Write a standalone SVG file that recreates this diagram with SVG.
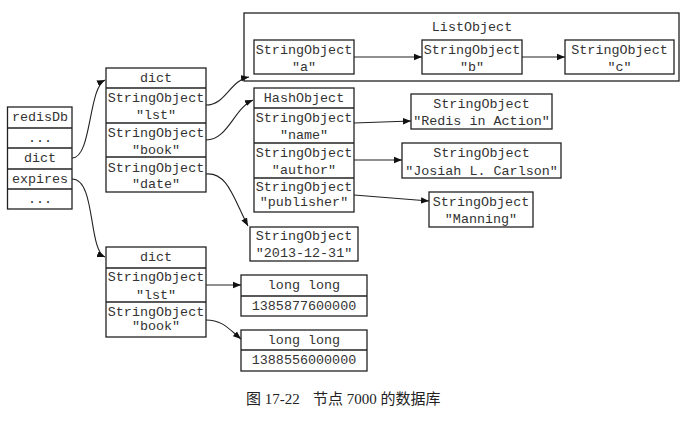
<svg xmlns="http://www.w3.org/2000/svg" width="695" height="421" viewBox="0 0 695 421">
<defs>
<marker id="ah" viewBox="0 0 10 10" refX="10" refY="5" markerWidth="8" markerHeight="8" markerUnits="userSpaceOnUse" orient="auto">
<path d="M0,1 L10,5 L0,9 z" fill="#111"/>
</marker>
<style>
.b{fill:#fff;stroke:#222;stroke-width:1.3}
.t{font-family:"Liberation Mono","DejaVu Sans Mono",monospace;font-size:13.4px;fill:#333;text-anchor:middle;dominant-baseline:central}
.c{fill:none;stroke:#222;stroke-width:1.1;marker-end:url(#ah)}
.cap{font-family:"Liberation Serif","Noto Sans CJK SC",serif;font-size:15px;fill:#222}
</style>
</defs>
<rect width="695" height="421" fill="#fff"/>

<g id="redisDb">
<rect class="b" x="7.5" y="107" width="64.5" height="102"/>
<line class="b" x1="7.5" y1="128" x2="72" y2="128"/>
<line class="b" x1="7.5" y1="148" x2="72" y2="148"/>
<line class="b" x1="7.5" y1="169" x2="72" y2="169"/>
<line class="b" x1="7.5" y1="189" x2="72" y2="189"/>
<text class="t" x="40" y="117">redisDb</text>
<text class="t" x="40" y="138">...</text>
<text class="t" x="40" y="158">dict</text>
<text class="t" x="40" y="179">expires</text>
<text class="t" x="40" y="199">...</text>
</g>

<g id="dict1">
<rect class="b" x="106" y="68" width="100" height="124"/>
<line class="b" x1="106" y1="88" x2="206" y2="88"/>
<line class="b" x1="106" y1="123" x2="206" y2="123"/>
<line class="b" x1="106" y1="157" x2="206" y2="157"/>
<text class="t" x="156" y="78">dict</text>
<text class="t" x="156" y="98">StringObject</text>
<text class="t" x="156" y="115">"lst"</text>
<text class="t" x="156" y="133">StringObject</text>
<text class="t" x="156" y="150">"book"</text>
<text class="t" x="156" y="168">StringObject</text>
<text class="t" x="156" y="184">"date"</text>
</g>

<g id="listObject">
<rect class="b" x="244" y="13" width="435" height="68"/>
<text class="t" x="472" y="27">ListObject</text>
</g>
<g id="strA">
<rect class="b" x="254" y="40" width="100" height="34"/>
<text class="t" x="304" y="50">StringObject</text>
<text class="t" x="304" y="67">"a"</text>
</g>
<g id="strB">
<rect class="b" x="422" y="40" width="100" height="34"/>
<text class="t" x="472" y="50">StringObject</text>
<text class="t" x="472" y="67">"b"</text>
</g>
<g id="strC">
<rect class="b" x="565" y="40" width="109" height="34"/>
<text class="t" x="619.5" y="50">StringObject</text>
<text class="t" x="619.5" y="67">"c"</text>
</g>

<g id="hashObject">
<rect class="b" x="254" y="88" width="100" height="124"/>
<line class="b" x1="254" y1="108" x2="354" y2="108"/>
<line class="b" x1="254" y1="143" x2="354" y2="143"/>
<line class="b" x1="254" y1="178" x2="354" y2="178"/>
<text class="t" x="304" y="98">HashObject</text>
<text class="t" x="304" y="118">StringObject</text>
<text class="t" x="304" y="135">"name"</text>
<text class="t" x="304" y="153">StringObject</text>
<text class="t" x="304" y="170">"author"</text>
<text class="t" x="304" y="187">StringObject</text>
<text class="t" x="304" y="202">"publisher"</text>
</g>

<g id="strRedis">
<rect class="b" x="411" y="94" width="141" height="35"/>
<text class="t" x="481.5" y="104">StringObject</text>
<text class="t" x="481.5" y="121">"Redis in Action"</text>
</g>
<g id="strJosiah">
<rect class="b" x="402" y="143" width="159" height="35"/>
<text class="t" x="481.5" y="153">StringObject</text>
<text class="t" x="481.5" y="171">"Josiah L. Carlson"</text>
</g>
<g id="strManning">
<rect class="b" x="429" y="192" width="104" height="35"/>
<text class="t" x="481" y="202">StringObject</text>
<text class="t" x="481" y="219">"Manning"</text>
</g>

<g id="strDate">
<rect class="b" x="250" y="227" width="108" height="34"/>
<text class="t" x="304" y="236">StringObject</text>
<text class="t" x="304" y="253">"2013-12-31"</text>
</g>

<g id="dict2">
<rect class="b" x="106" y="247" width="100" height="90"/>
<line class="b" x1="106" y1="268" x2="206" y2="268"/>
<line class="b" x1="106" y1="302" x2="206" y2="302"/>
<text class="t" x="156" y="257">dict</text>
<text class="t" x="156" y="277">StringObject</text>
<text class="t" x="156" y="295">"lst"</text>
<text class="t" x="156" y="312">StringObject</text>
<text class="t" x="156" y="326">"book"</text>
</g>

<g id="longlong1">
<rect class="b" x="241" y="275" width="126" height="41"/>
<line class="b" x1="241" y1="296" x2="367" y2="296"/>
<text class="t" x="304" y="285">long long</text>
<text class="t" x="304" y="306">1385877600000</text>
</g>
<g id="longlong2">
<rect class="b" x="241" y="330" width="126" height="41"/>
<line class="b" x1="241" y1="350" x2="367" y2="350"/>
<text class="t" x="304" y="340">long long</text>
<text class="t" x="304" y="360">1388556000000</text>
</g>

<g id="connectors">
<path class="c" d="M72,158 C92,158 88,88 105,80"/>
<path class="c" d="M72,179 C96,179 88,250 105,257"/>
<path class="c" d="M206,105 C226,105 230,80 249,77"/>
<path class="c" d="M206,140 C228,140 234,108 253,100"/>
<path class="c" d="M206,174 C228,172 234,200 248,226"/>
<path class="c" d="M354,123 L411,121"/>
<path class="c" d="M354,160 L402,160"/>
<path class="c" d="M354,195 L429,201"/>
<path class="c" d="M354,57 L422,57"/>
<path class="c" d="M522,57 L565,57"/>
<path class="c" d="M206,285 L241,285"/>
<path class="c" d="M206,320 C222,320 228,328 241,339"/>
</g>

<text class="cap" x="246" y="404">图 17-22<tspan x="313">节点 7000 的数据库</tspan></text>
</svg>
